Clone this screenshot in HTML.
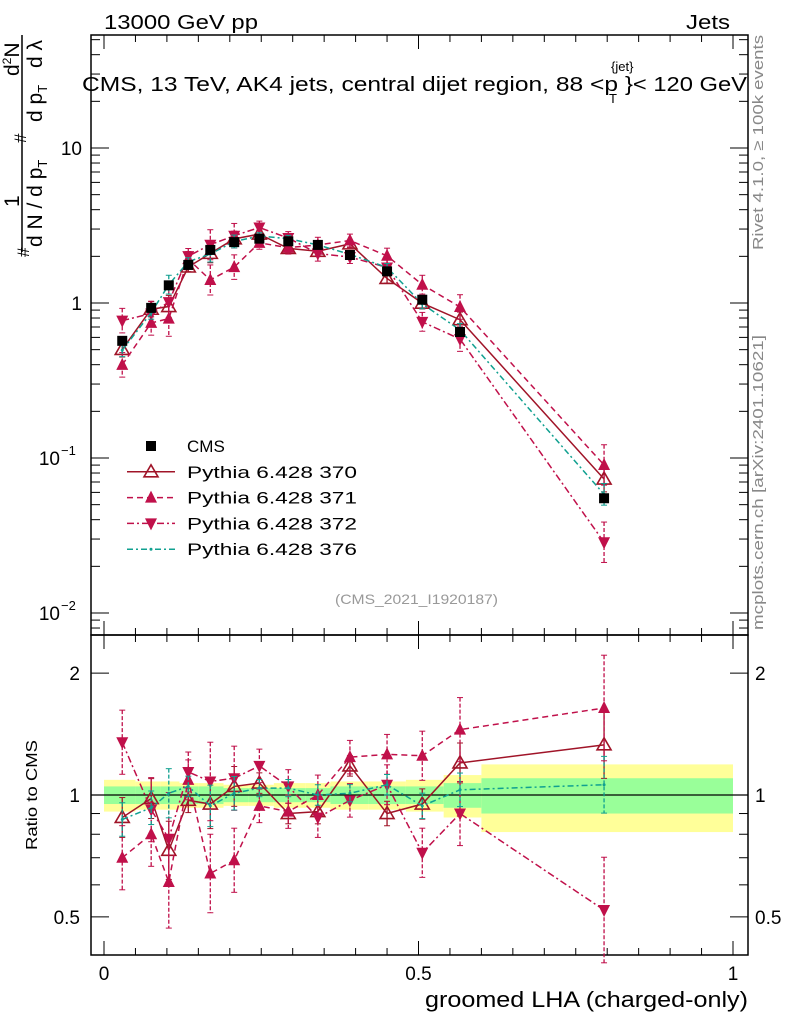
<!DOCTYPE html>
<html><head><meta charset="utf-8">
<style>
body{margin:0;background:#fff;}
svg{display:block;font-family:"Liberation Sans",sans-serif;}
</style></head>
<body>
<svg id="c" width="786" height="1024" viewBox="0 0 786 1024" xmlns="http://www.w3.org/2000/svg">
<text x="104" y="29" font-size="20" textLength="154" lengthAdjust="spacingAndGlyphs">13000 GeV pp</text>
<text x="686" y="29" font-size="20" textLength="44" lengthAdjust="spacingAndGlyphs">Jets</text>
<g>
<text x="82" y="91" font-size="20" textLength="536" lengthAdjust="spacingAndGlyphs">CMS, 13 TeV, AK4 jets, central dijet region, 88 &lt;p</text>
<text x="611" y="71" font-size="13">{jet}</text>
<text x="609" y="103" font-size="13">T</text>
<text x="625" y="91" font-size="20" textLength="122" lengthAdjust="spacingAndGlyphs">}&lt; 120 GeV</text>
</g>
<g transform="rotate(-90)" font-size="21">
<line x1="-252" y1="22" x2="-35" y2="22" stroke="#000" stroke-width="1.5"/>
<text x="-207" y="19">1</text>
<text x="-76" y="19">d<tspan font-size="12" dy="-8">2</tspan><tspan dy="8">N</tspan></text>
<text x="-247" y="42">d N / d p<tspan font-size="13" dy="5">T</tspan></text>
<text x="-257" y="29" font-size="17">#</text>
<text x="-143" y="26" font-size="17">#</text>
<text x="-122" y="42">d p<tspan font-size="13" dy="5">T</tspan></text>
<text x="-68" y="42">d λ</text>
</g>
<text transform="translate(763,250) rotate(-90)" font-size="15" fill="#888" textLength="215" lengthAdjust="spacingAndGlyphs">Rivet 4.1.0, ≥ 100k events</text>
<text transform="translate(763,630) rotate(-90)" font-size="15" fill="#888" textLength="295" lengthAdjust="spacingAndGlyphs">mcplots.cern.ch [arXiv:2401.10621]</text>
<text x="335" y="604" font-size="14" fill="#999" textLength="163" lengthAdjust="spacingAndGlyphs">(CMS_2021_I1920187)</text>
<text transform="translate(37,850) rotate(-90)" font-size="16" textLength="110" lengthAdjust="spacingAndGlyphs">Ratio to CMS</text>
<text x="425" y="1007" font-size="22" textLength="323" lengthAdjust="spacingAndGlyphs">groomed LHA (charged-only)</text>
<g id="g"></g>
</svg>
<script>
const xs=[0.029,0.075,0.103,0.134,0.169,0.207,0.247,0.293,0.340,0.391,0.450,0.506,0.566,0.795];
const edges=[0,0.05,0.09,0.12,0.15,0.19,0.23,0.27,0.32,0.36,0.42,0.48,0.54,0.6,1.0];
const cms=[0.57,0.93,1.3,1.76,2.2,2.47,2.6,2.5,2.37,2.04,1.6,1.05,0.65,0.055];
const r370=[0.88,0.98,0.73,0.97,0.95,1.05,1.07,0.90,0.91,1.18,0.90,0.95,1.20,1.33];
const r371=[0.70,0.80,0.61,1.09,0.64,0.69,0.94,0.91,1.0,1.24,1.26,1.25,1.45,1.64];
const r372=[1.35,0.92,0.78,1.14,1.08,1.10,1.18,1.05,0.88,0.97,1.06,0.72,0.90,0.52];
const r376=[0.87,0.93,1.01,1.05,0.94,1.01,1.04,1.04,1.0,1.01,1.06,0.94,1.03,1.06];
const errM=[0.2,0.2,0.3,0.12,0.25,0.2,0.1,0.1,0.12,0.1,0.12,0.15,0.2,0.35];
const bandG=[0.05,0.05,0.05,0.05,0.05,0.04,0.04,0.04,0.04,0.05,0.05,0.05,0.07,0.1];
const bandY=[0.09,0.08,0.08,0.07,0.07,0.06,0.06,0.07,0.07,0.08,0.08,0.09,0.12,0.19];
const NS="http://www.w3.org/2000/svg",G=document.getElementById('g');
const X=v=>104+629*v, Y=v=>303-155*Math.log10(v), R=v=>795-405*Math.log10(v);
function el(t,a,p){const e=document.createElementNS(NS,t);for(const k in a)e.setAttribute(k,a[k]);(p||G).appendChild(e);return e;}
for(let i=0;i<bandG.length;i++){
 const yb=el('rect',{x:X(edges[i]),y:R(1+bandY[i]),width:X(edges[i+1])-X(edges[i]),height:R(1-bandY[i])-R(1+bandY[i]),fill:'#ffff99'});
 
 
 const gb=el('rect',{x:X(edges[i]),y:R(1+bandG[i]),width:X(edges[i+1])-X(edges[i]),height:R(1-bandG[i])-R(1+bandG[i]),fill:'#99ff99'});
 
 
}
el('line',{x1:91,x2:748,y1:R(1),y2:R(1),stroke:'#000','stroke-width':1.3});
for(const f of [[35,635],[635,955]]){const r=el('rect',{x:91,y:f[0],width:657,height:f[1]-f[0],fill:'none',stroke:'#000','stroke-width':1.5});}
for(let v=0;v<=1.0001;v+=0.05){const big=Math.abs(v*2-Math.round(v*2))<1e-6;const L=big?14:7;
 for(const[yt,yb2] of [[35,635],[635,955]]){el('line',{x1:X(v),x2:X(v),y1:yb2,y2:yb2-L,stroke:'#000'});el('line',{x1:X(v),x2:X(v),y1:yt,y2:yt+L,stroke:'#000'});}}
[[0,'0'],[0.5,'0.5'],[1,'1']].forEach(([v,s])=>{const t=el('text',{x:X(v),y:980,'font-size':19,'text-anchor':'middle'});t.textContent=s;});
for(let d=-3;d<2;d++)for(let m=1;m<10;m++){const v=m*Math.pow(10,d);const y=Y(v);if(y<35||y>635)continue;const L=m==1?18:9;
 el('line',{x1:91,x2:91+L,y1:y,y2:y,stroke:'#000'});el('line',{x1:748,x2:748-L,y1:y,y2:y,stroke:'#000'});}
[[10,'10'],[1,'1']].forEach(([v,s])=>{const t=el('text',{x:82,y:Y(v)+7,'font-size':19,'text-anchor':'end'});t.textContent=s;});
[[0.1,'−1'],[0.01,'−2']].forEach(([v,s])=>{const t=el('text',{x:60,y:Y(v)+7,'font-size':19,'text-anchor':'end'});t.textContent='10';const e=el('text',{x:61,y:Y(v)-3,'font-size':13});e.textContent=s;});
[0.5,0.6,0.7,0.8,0.9,1,2].forEach(v=>{const L=(v==0.5||v==1||v==2)?18:9;const y=R(v);el('line',{x1:91,x2:91+L,y1:y,y2:y,stroke:'#000'});el('line',{x1:748,x2:748-L,y1:y,y2:y,stroke:'#000'});});
[[0.5,'0.5'],[1,'1'],[2,'2']].forEach(([v,s])=>{for(const [x,a] of [[80,'end'],[755,'start']]){const t=el('text',{x:x,y:R(v)+7,'font-size':19,'text-anchor':a});t.textContent=s;}});
function mark(type,x,y,c){
 if(type=='sq')return el('rect',{x:x-5,y:y-5,width:10,height:10,fill:'#000'});
 if(type=='open')return el('polygon',{points:`${x},${y-7} ${x+7},${y+5} ${x-7},${y+5}`,fill:'none',stroke:c,'stroke-width':1.6});
 if(type=='up')return el('polygon',{points:`${x},${y-7} ${x+6},${y+5} ${x-6},${y+5}`,fill:c});
 if(type=='down')return el('polygon',{points:`${x},${y+7} ${x+6},${y-5} ${x-6},${y-5}`,fill:c});
 if(type=='dot')return el('circle',{cx:x,cy:y,r:1.5,fill:c});
}
const series=[
 {n:'pythia-370',r:r370,c:'#a01428',d:'',m:'open',e:0.6},
 {n:'pythia-371',r:r371,c:'#c0104a',d:'6,4',m:'up',e:1},
 {n:'pythia-372',r:r372,c:'#c0104a',d:'7,3,2,3',m:'down',e:1},
 {n:'pythia-376',r:r376,c:'#10a090',d:'6,3,2,3',m:'dot',e:0.5}];
series.forEach(s=>{
 const mp=xs.map((x,i)=>`${X(x)},${Y(cms[i]*s.r[i])}`).join(' ');
 const l1=el('polyline',{points:mp,fill:'none',stroke:s.c,'stroke-width':1.5,'stroke-dasharray':s.d});
 
 
 const rp=xs.map((x,i)=>`${X(x)},${R(s.r[i])}`).join(' ');
 const l2=el('polyline',{points:rp,fill:'none',stroke:s.c,'stroke-width':1.5,'stroke-dasharray':s.d});
 
 
 xs.forEach((x,i)=>{const e=errM[i]*s.e;
  for(const [f,v] of [[Y,cms[i]*s.r[i]],[R,s.r[i]]]){
   const y1=f(v*(1+e)),y2=f(v/(1+e));
   el('line',{x1:X(x),x2:X(x),y1:y1,y2:y2,stroke:s.c,'stroke-width':1.3,'stroke-dasharray':s.d?'4,2':''});
   el('line',{x1:X(x)-3,x2:X(x)+3,y1:y1,y2:y1,stroke:s.c});el('line',{x1:X(x)-3,x2:X(x)+3,y1:y2,y2:y2,stroke:s.c});
   const m=mark(s.m,X(x),f(v),s.c);}
 });
});
xs.forEach((x,i)=>{const m=mark('sq',X(x),Y(cms[i]));});
const leg=[['CMS','sq','#000','',0],['Pythia 6.428 370','open','#a01428','',170],['Pythia 6.428 371','up','#c0104a','6,4',170],['Pythia 6.428 372','down','#c0104a','7,3,2,3',170],['Pythia 6.428 376','dot','#10a090','6,3,2,3',170]];
leg.forEach((l,i)=>{const y=446+i*25.8;
 if(i>0)el('line',{x1:127,x2:175,y1:y,y2:y,stroke:l[2],'stroke-width':1.5,'stroke-dasharray':l[3]});
 mark(l[1],151,y,l[2]);
 const a={x:187,y:y+6,'font-size':17};
 if(l[4]){a.textLength=l[4];a.lengthAdjust='spacingAndGlyphs';}
 const t=el('text',a);t.textContent=l[0];
 
 });
</script>
</body></html>
